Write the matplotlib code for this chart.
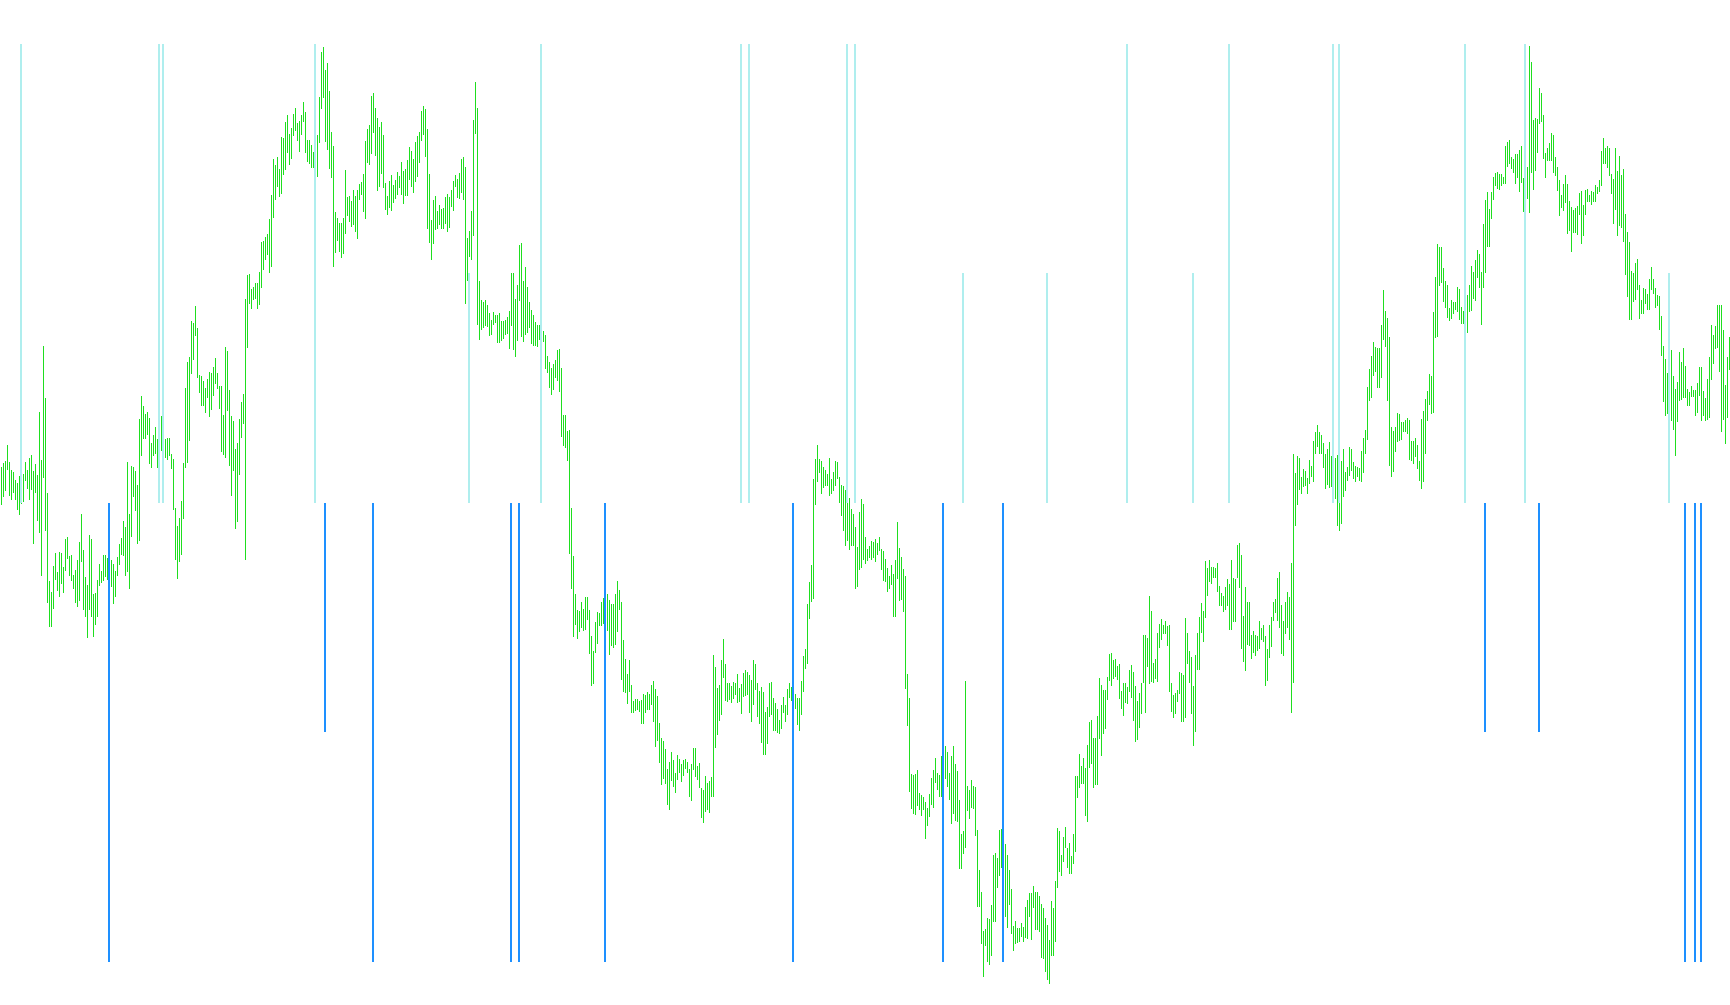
"""
Barres high/low + signaux (haut = turquoise pale, bas = bleu).
Sortie : out.png (1730x1005)
"""
import numpy as np
import matplotlib
matplotlib.use("Agg")
import matplotlib.pyplot as plt

# plus haut / plus bas de chaque barre (points de prix, echelle arbitraire)
highs = [
    533, 537, 539, 555, 538, 530, 528, 520, 517, 524,
    523, 526, 538, 530, 542, 545, 529, 536, 525, 588,
    540, 654, 602, 507, 419, 408, 434, 447, 428, 448,
    447, 433, 461, 463, 444, 445, 425, 430, 440, 458,
    486, 450, 423, 415, 465, 461, 406, 407, 420, 436,
    429, 445, 445, 442, 440, 440, 436, 429, 443, 456,
    462, 479, 473, 538, 486, 534, 533, 529, 515, 581,
    604, 594, 586, 588, 582, 557, 565, 573, 561, 570,
    584, 563, 561, 562, 562, 546, 541, 492, 474, 482,
    499, 537, 612, 638, 643, 679, 677, 694, 672, 625,
    624, 619, 612, 621, 628, 627, 633, 642, 627, 614,
    614, 585, 653, 649, 610, 584, 579, 551, 557, 581,
    598, 606, 701, 725, 726, 711, 713, 717, 717, 728,
    758, 759, 763, 766, 781, 805, 841, 835, 843, 831,
    863, 862, 878, 885, 866, 872, 886, 892, 877, 879,
    885, 898, 888, 860, 860, 855, 848, 847, 865, 903,
    948, 953, 930, 937, 909, 868, 854, 788, 782, 777,
    777, 782, 830, 803, 804, 799, 810, 804, 810, 816,
    818, 826, 859, 871, 875, 904, 907, 892, 882, 873,
    878, 865, 817, 804, 819, 825, 815, 820, 828, 824,
    838, 829, 831, 840, 853, 849, 841, 858, 864, 868,
    889, 894, 891, 871, 826, 780, 800, 804, 789, 795,
    791, 792, 803, 806, 803, 810, 819, 825, 821, 827,
    841, 843, 833, 762, 769, 789, 880, 918, 892, 719,
    700, 698, 700, 695, 687, 680, 688, 685, 685, 687,
    679, 679, 680, 683, 689, 727, 727, 701, 715, 755,
    757, 719, 733, 713, 698, 690, 685, 678, 675, 675,
    671, 669, 665, 644, 638, 632, 636, 640, 650, 651,
    632, 585, 585, 569, 570, 492, 444, 406, 390, 389,
    398, 391, 403, 403, 390, 364, 349, 378, 388, 387,
    398, 402, 399, 406, 400, 396, 396, 406, 419, 410,
    398, 360, 341, 326, 340, 315, 299, 301, 301, 299,
    300, 306, 305, 308, 306, 315, 319, 311, 304, 277,
    262, 259, 251, 231, 238, 248, 240, 227, 245, 241,
    236, 240, 241, 238, 231, 236, 252, 252, 234, 237,
    212, 210, 224, 217, 219, 223, 345, 333, 312, 315,
    340, 361, 336, 317, 317, 314, 318, 317, 326, 312,
    316, 327, 330, 328, 325, 320, 340, 336, 317, 309,
    313, 308, 288, 293, 317, 318, 302, 297, 291, 280,
    295, 303, 295, 311, 317, 313, 316, 306, 302, 302,
    319, 344, 351, 396, 418, 435, 521, 541, 555, 541,
    539, 533, 530, 526, 542, 521, 528, 539, 538, 523,
    515, 514, 510, 497, 502, 491, 486, 473, 453, 488,
    501, 496, 463, 451, 454, 459, 458, 461, 457, 463,
    451, 449, 441, 432, 424, 435, 426, 440, 478, 452,
    443, 431, 424, 326, 302, 226, 225, 226, 230, 207,
    205, 203, 198, 192, 206, 222, 230, 242, 227, 225,
    244, 254, 254, 248, 227, 244, 254, 236, 229, 200,
    166, 169, 319, 214, 210, 220, 214, 213, 170, 130,
    108, 69, 71, 82, 81, 95, 145, 147, 142, 170,
    171, 160, 156, 145, 130, 111, 74, 79, 72, 72,
    77, 73, 93, 100, 107, 107, 114, 108, 108, 104,
    96, 92, 82, 75, 60, 99, 92, 119, 172, 169,
    145, 163, 173, 152, 157, 144, 166, 224, 224, 246,
    234, 242, 232, 255, 278, 280, 262, 262, 284, 322,
    315, 310, 310, 323, 346, 347, 340, 341, 334, 336,
    309, 317, 317, 313, 330, 335, 328, 314, 299, 307,
    317, 365, 365, 362, 404, 389, 337, 341, 367, 376,
    381, 375, 379, 374, 375, 317, 305, 307, 310, 328,
    327, 325, 382, 367, 349, 343, 314, 345, 367, 383,
    397, 389, 439, 432, 440, 433, 433, 432, 437, 414,
    407, 404, 413, 421, 416, 440, 422, 421, 455, 457,
    445, 384, 413, 398, 398, 365, 369, 365, 364, 379,
    372, 375, 364, 351, 375, 383, 398, 401, 422, 428,
    395, 379, 398, 408, 403, 437, 546, 527, 544, 542,
    523, 531, 529, 522, 540, 534, 559, 568, 575, 568,
    565, 557, 546, 551, 558, 544, 542, 542, 545, 498,
    539, 551, 528, 533, 553, 551, 538, 534, 533, 532,
    549, 562, 570, 613, 631, 644, 658, 653, 652, 652,
    675, 710, 689, 682, 663, 573, 569, 573, 587, 586,
    578, 578, 580, 582, 580, 559, 559, 562, 555, 539,
    581, 589, 601, 609, 626, 624, 688, 723, 756, 753,
    753, 732, 719, 715, 692, 700, 698, 698, 713, 711,
    693, 689, 697, 705, 715, 734, 728, 740, 750, 746,
    728, 776, 800, 808, 791, 808, 823, 827, 828, 826,
    826, 823, 854, 858, 860, 843, 841, 846, 846, 850,
    854, 822, 847, 833, 954, 938, 880, 882, 881, 912,
    907, 885, 847, 852, 857, 867, 865, 843, 833, 820,
    805, 816, 825, 816, 799, 793, 790, 792, 794, 807,
    809, 795, 810, 811, 805, 809, 808, 815, 813, 820,
    849, 862, 852, 854, 852, 826, 821, 852, 829, 844,
    825, 831, 786, 768, 758, 729, 727, 737, 741, 715,
    700, 712, 711, 706, 721, 733, 721, 712, 705, 704,
    684, 654, 641, 627, 633, 650, 624, 611, 618, 648,
    638, 652, 634, 611, 608, 614, 610, 610, 617, 633,
    633, 609, 602, 621, 643, 675, 665, 674, 695, 695,
    695, 670, 615, 643, 663,
]
lows = [
    496, 504, 510, 531, 505, 501, 508, 501, 491, 486,
    497, 499, 520, 512, 501, 511, 457, 508, 480, 468,
    425, 523, 470, 398, 374, 374, 392, 421, 410, 404,
    417, 408, 430, 442, 425, 420, 412, 398, 394, 400,
    439, 391, 384, 363, 391, 384, 364, 376, 384, 415,
    418, 420, 424, 421, 425, 414, 397, 404, 425, 436,
    446, 445, 425, 429, 412, 464, 504, 490, 457, 460,
    545, 562, 562, 566, 537, 533, 545, 547, 533, 543,
    550, 550, 543, 541, 545, 532, 491, 441, 422, 439,
    446, 482, 533, 538, 560, 627, 641, 665, 623, 608,
    595, 595, 588, 603, 584, 591, 605, 617, 612, 592,
    549, 546, 543, 590, 535, 505, 530, 472, 479, 526,
    563, 577, 441, 653, 697, 692, 701, 702, 692, 696,
    713, 731, 741, 746, 728, 734, 783, 801, 814, 804,
    807, 826, 831, 848, 836, 842, 865, 870, 860, 849,
    866, 879, 848, 839, 837, 833, 833, 827, 824, 858,
    892, 903, 859, 851, 832, 823, 734, 748, 760, 749,
    743, 747, 767, 785, 779, 774, 776, 769, 762, 801,
    806, 789, 782, 838, 836, 847, 868, 845, 810, 814,
    827, 813, 791, 786, 793, 790, 798, 802, 806, 813,
    806, 797, 805, 805, 821, 814, 808, 819, 824, 838,
    860, 866, 844, 772, 758, 741, 757, 771, 772, 776,
    772, 772, 777, 769, 773, 794, 790, 814, 803, 802,
    808, 801, 697, 720, 744, 741, 765, 867, 676, 661,
    671, 673, 675, 674, 665, 666, 676, 678, 658, 658,
    660, 662, 666, 667, 652, 675, 651, 644, 660, 700,
    664, 659, 666, 668, 673, 657, 655, 655, 654, 661,
    663, 659, 632, 628, 613, 606, 611, 623, 620, 609,
    564, 555, 553, 540, 447, 412, 364, 376, 362, 369,
    373, 370, 371, 381, 347, 315, 317, 348, 357, 375,
    375, 377, 375, 370, 346, 355, 353, 356, 369, 391,
    321, 309, 308, 297, 309, 288, 288, 290, 291, 289,
    277, 277, 288, 291, 291, 296, 279, 254, 260, 238,
    216, 222, 217, 196, 191, 220, 214, 208, 221, 228,
    219, 225, 232, 228, 204, 200, 231, 224, 221, 213,
    183, 178, 189, 191, 188, 204, 204, 253, 266, 280,
    286, 323, 300, 299, 301, 298, 302, 306, 298, 299,
    287, 304, 305, 306, 288, 279, 296, 311, 284, 277,
    258, 246, 246, 257, 284, 286, 270, 270, 268, 267,
    272, 288, 279, 286, 303, 300, 294, 292, 276, 270,
    286, 309, 332, 337, 382, 399, 402, 496, 519, 528,
    507, 513, 515, 515, 505, 507, 510, 515, 522, 498,
    485, 470, 455, 460, 451, 455, 455, 412, 414, 431,
    433, 441, 437, 440, 443, 441, 443, 439, 446, 450,
    431, 420, 419, 409, 412, 416, 384, 384, 422, 400,
    401, 389, 312, 275, 209, 192, 187, 186, 195, 191,
    185, 191, 162, 175, 184, 196, 193, 218, 211, 204,
    204, 221, 222, 214, 201, 177, 187, 180, 179, 132,
    132, 147, 153, 190, 182, 193, 192, 165, 94, 94,
    57, 24, 55, 39, 36, 45, 79, 79, 113, 125,
    133, 110, 84, 73, 96, 67, 50, 57, 58, 59,
    64, 59, 63, 62, 84, 61, 93, 71, 71, 69,
    43, 42, 29, 21, 17, 45, 45, 59, 113, 129,
    125, 139, 153, 133, 127, 127, 137, 149, 203, 213,
    217, 217, 185, 179, 233, 237, 213, 216, 216, 262,
    245, 267, 272, 301, 320, 315, 322, 324, 321, 302,
    292, 285, 298, 297, 309, 303, 280, 259, 261, 273,
    287, 318, 288, 334, 317, 319, 318, 322, 319, 353,
    361, 367, 367, 355, 309, 289, 283, 287, 299, 307,
    279, 279, 283, 337, 318, 287, 255, 269, 331, 331,
    368, 359, 383, 405, 419, 417, 423, 423, 409, 395,
    395, 389, 391, 395, 371, 371, 379, 379, 423, 413,
    352, 339, 330, 356, 355, 342, 348, 345, 350, 352,
    361, 359, 315, 320, 343, 354, 380, 388, 380, 373,
    347, 345, 367, 373, 361, 288, 318, 475, 496, 511,
    507, 514, 515, 507, 517, 524, 519, 547, 554, 547,
    547, 533, 512, 516, 513, 514, 505, 502, 475, 470,
    477, 504, 510, 520, 525, 530, 522, 519, 524, 520,
    519, 528, 547, 561, 600, 603, 625, 629, 613, 613,
    623, 661, 654, 600, 535, 524, 529, 549, 559, 560,
    561, 569, 569, 567, 541, 540, 537, 544, 532, 520,
    512, 519, 547, 580, 596, 587, 588, 663, 664, 715,
    718, 699, 693, 683, 680, 682, 687, 691, 689, 681,
    677, 677, 677, 668, 689, 690, 702, 700, 723, 713,
    676, 713, 728, 754, 754, 782, 801, 815, 812, 811,
    815, 817, 817, 834, 837, 832, 828, 817, 823, 809,
    818, 789, 813, 802, 788, 828, 811, 830, 848, 877,
    879, 842, 823, 840, 840, 840, 828, 825, 810, 785,
    793, 790, 798, 767, 770, 749, 768, 768, 766, 786,
    757, 765, 786, 799, 799, 796, 799, 799, 807, 809,
    815, 837, 837, 833, 825, 807, 777, 791, 765, 775,
    773, 759, 726, 704, 681, 681, 699, 701, 711, 682,
    687, 687, 697, 691, 691, 711, 707, 693, 695, 671,
    645, 599, 585, 587, 597, 580, 571, 545, 579, 600,
    601, 603, 603, 595, 595, 604, 604, 585, 588, 605,
    580, 585, 580, 581, 583, 621, 637, 652, 653, 629,
    569, 581, 557, 583, 631,
]

# signaux : numero de barre et intensite (1 = plein, 0.5 = demi)
up_idx = [10, 79, 81, 157, 234, 270, 370, 374, 423, 427,
          481, 523, 563, 596, 614, 666, 669, 732, 762, 834]
up_val = [1, 1, 1, 1, 0.5, 1, 1, 1, 1, 1,
          0.5, 0.5, 1, 0.5, 1, 1, 1, 1, 1, 0.5]
dn_idx = [54, 162, 186, 255, 259, 302, 396, 471, 501, 742,
          769, 842, 847, 850]
dn_val = [-1, -0.5, -1, -1, -1, -1, -1, -1, -1, -0.5,
          -0.5, -1, -1, -1]

GREEN = "#1fde1f"
CYAN = "#afeeee"
BLUE = "#1e90ff"


def main():
    n = len(highs)
    x = np.arange(n)

    fig = plt.figure(figsize=(17.3, 10.051), dpi=100)
    ax = fig.add_axes([0, 0, 1, 1])
    ax.vlines(x, lows, highs, color=GREEN, lw=0.72, antialiased=False)
    ax.set_xlim(-0.67, n - 0.67)
    ax.set_ylim(-5, 1000)
    ax.axis("off")

    # signaux sur un axe a part, centre vers le milieu de la figure
    ax2 = ax.twinx()
    ax2.vlines(up_idx, 0, up_val, color=CYAN, lw=1.44, antialiased=False)
    ax2.vlines(dn_idx, 0, dn_val, color=BLUE, lw=1.44, antialiased=False)
    ax2.set_ylim(-1.0937, 1.0959)
    ax2.set_xlim(-0.67, n - 0.67)
    ax2.axis("off")

    fig.savefig("out.png", dpi=100)
    plt.close(fig)


if __name__ == "__main__":
    main()
